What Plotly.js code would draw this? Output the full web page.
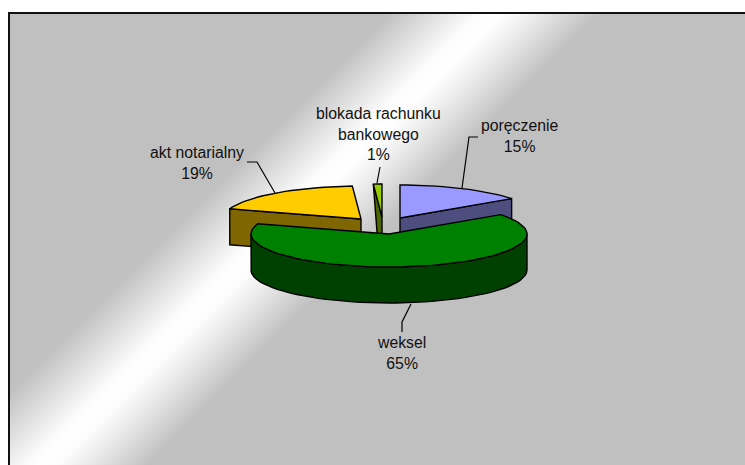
<!DOCTYPE html>
<html><head><meta charset="utf-8">
<script src="https://cdn.plot.ly/plotly-3.0.1.min.js"></script>
<style>
html,body{margin:0;padding:0;background:#fff;}
#frame{position:absolute;left:8px;top:12px;width:737px;height:453px;box-sizing:border-box;border-left:2px solid #111;border-top:2px solid #111;
background:linear-gradient(135deg,#c0c0c0 0px,#c0c0c0 267px,#e4e4e4 305px,#fbfbfb 330px,#ffffff 342px,#fbfbfb 354px,#e4e4e4 380px,#c0c0c0 417px,#c0c0c0 100%);}
#chart{position:absolute;left:0;top:0;width:745px;height:465px;}
</style></head><body>
<div id="frame"></div><div id="chart"></div>
<script>
const categories=["poręczenie","weksel","akt notarialny","blokada rachunku<br>bankowego"];
const values=[15,65,19,1];
const topColors=["#9999FF","#008000","#FFCC00","#99CC00"];
const wallColors=["#4D4D80","#004000","#806600","#4D6600"];
const apexX=[400,389,361,382];
const apexY=[218,234,219,217];
const labelX=[519,401,197,378];
const labelY=[136,353,163,134];
const leaderX=[[462,469,478],[411,402,402],[275,257,247],[377,380]];
const leaderY=[[188,137,137],[304,322,332],[193,162,162],[183,167]];
const A=138,B=33,D=36;
const total=values.reduce((a,b)=>a+b,0);
let cum=0;
const slices=values.map((v,i)=>{const s=cum/total*360;cum+=v;return {i,s,e:cum/total*360};});
const rad=d=>d*Math.PI/180;
const pt=(i,d)=>[apexX[i]+A*Math.sin(rad(d)),apexY[i]-B*Math.cos(rad(d))];
const arc=(i,a,b)=>{const n=Math.max(2,Math.ceil(Math.abs(b-a)/3));const o=[];for(let k=0;k<=n;k++)o.push(pt(i,a+(b-a)*k/n));return o;};
const poly=(p,fill)=>({type:"scatter",mode:"lines",x:p.map(q=>q[0]).concat(p[0][0]),y:p.map(q=>q[1]).concat(p[0][1]),fill:"toself",fillcolor:fill,line:{color:"#000",width:1.4},hoverinfo:"skip",showlegend:false});
const down=p=>[p[0],p[1]+D];
const traces=[];
function radialWall(i,d){const P=[apexX[i],apexY[i]],Q=pt(i,d);traces.push(poly([P,Q,down(Q),down(P)],wallColors[i]));}
function topFace(i){const sl=slices[i];traces.push(poly([[apexX[i],apexY[i]]].concat(arc(i,sl.s,sl.e)),topColors[i]));}
radialWall(2,slices[2].s);
{const Q=pt(3,slices[3].s),P=[apexX[3],apexY[3]];traces.push(poly([Q,P,down(P),[Q[0]+4,Q[1]+52]],wallColors[3]));}
radialWall(0,slices[0].e);
topFace(2);topFace(3);topFace(0);
{const up=arc(1,90,270),lo=up.slice().reverse().map(down);traces.push(poly(up.concat(lo),wallColors[1]));}
topFace(1);
leaderX.forEach((lx,i)=>traces.push({type:"scatter",mode:"lines",x:lx,y:leaderY[i],line:{color:"#000",width:1.2},hoverinfo:"skip",showlegend:false}));
const annotations=categories.map((c,i)=>({x:labelX[i],y:labelY[i],xref:"x",yref:"y",text:c+"<br>"+values[i]+"%",showarrow:false,xanchor:"center",yanchor:"middle",align:"center",font:{family:"Liberation Sans, Arial, sans-serif",size:15.8,color:"#111"}}));
Plotly.newPlot("chart",traces,{width:745,height:465,margin:{l:0,r:0,t:0,b:0},paper_bgcolor:"rgba(0,0,0,0)",plot_bgcolor:"rgba(0,0,0,0)",showlegend:false,
xaxis:{range:[0,745],visible:false,fixedrange:true},yaxis:{range:[465,0],visible:false,fixedrange:true},annotations},{displayModeBar:false,staticPlot:true});
</script></body></html>
